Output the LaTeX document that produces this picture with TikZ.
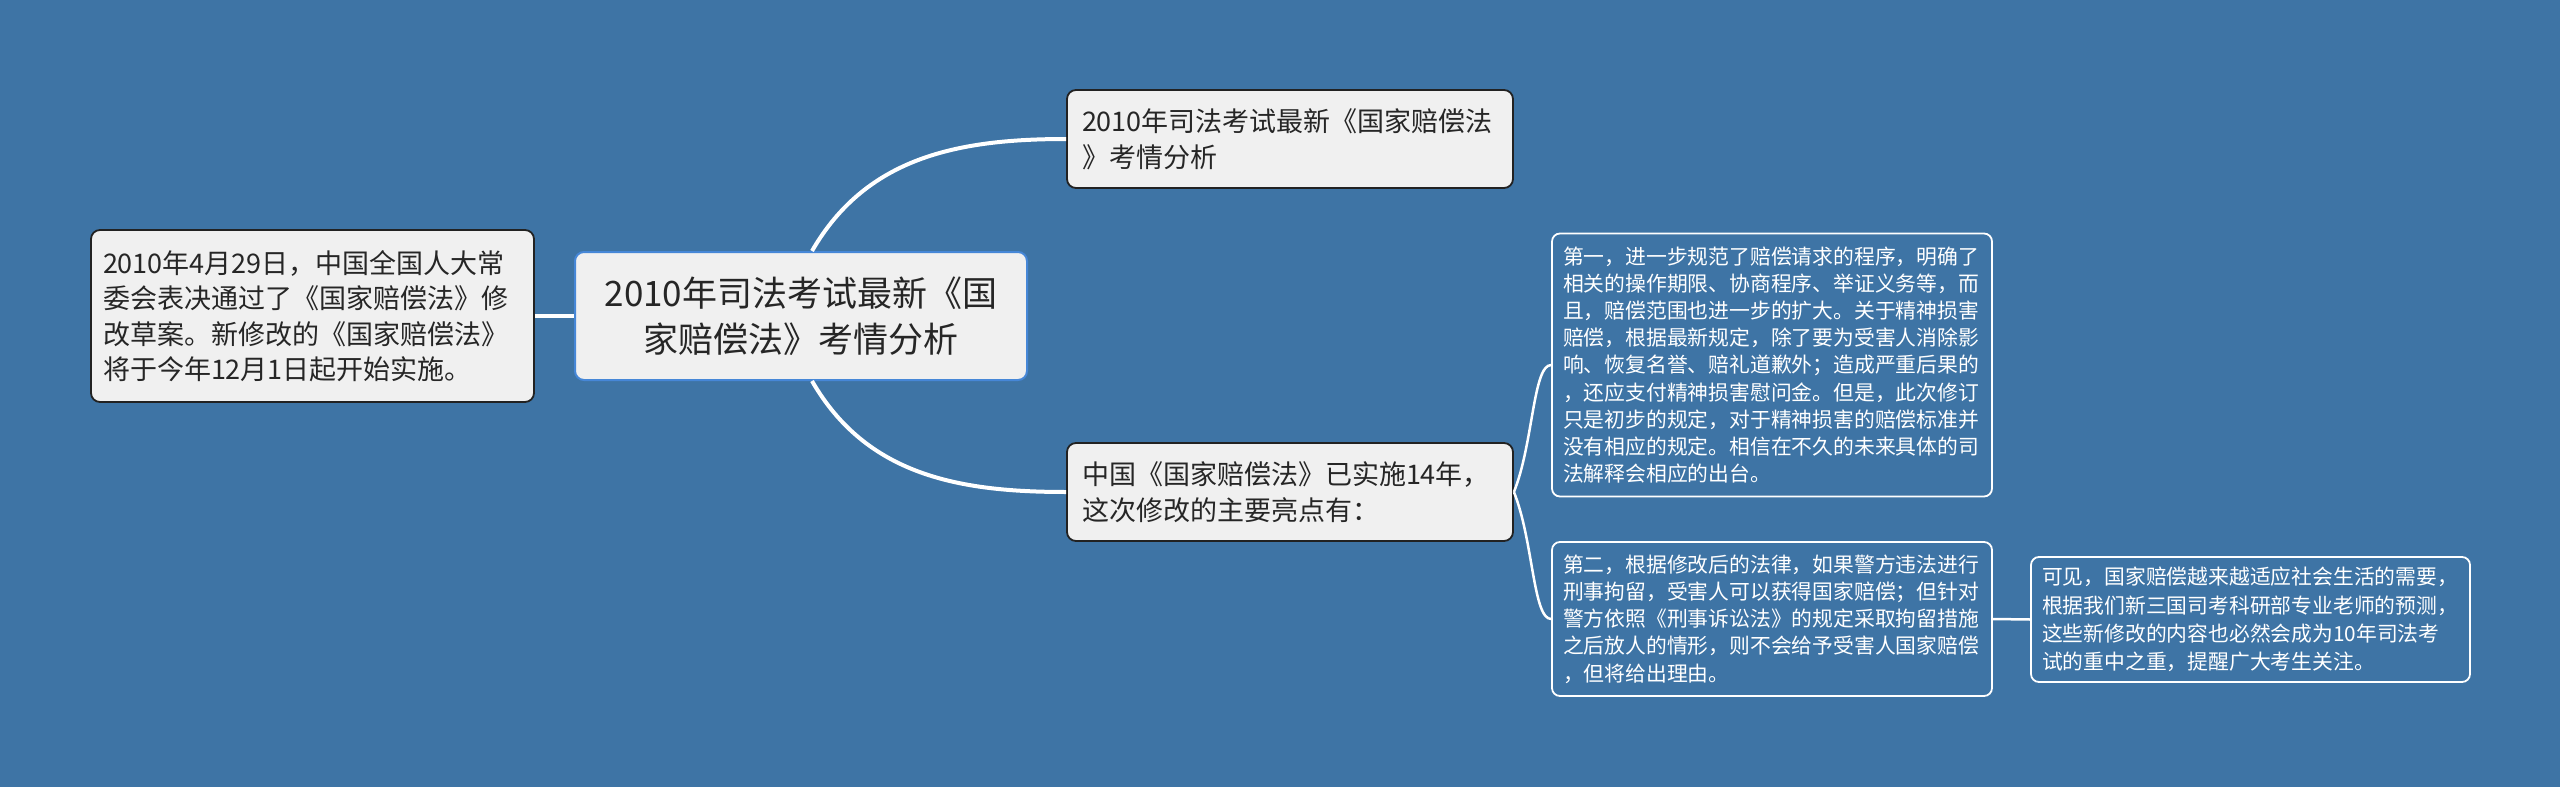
\documentclass[tikz,border=0pt]{standalone}
\usepackage{fontspec}
\newfontfamily\cjk{Noto Sans CJK SC}
\definecolor{bg}{RGB}{62,116,165}
\definecolor{greyfill}{RGB}{240,240,240}
\definecolor{darkline}{RGB}{34,34,34}
\definecolor{darktext}{RGB}{38,38,38}
\definecolor{rootline}{RGB}{70,135,215}
\tikzset{
  greybox/.style={draw=darkline, line width=1.8pt, fill=greyfill, rounded corners=9pt,
    text=darktext, align=left, inner xsep=0pt, inner ysep=0pt,
    font=\cjk\fontsize{27pt}{35.5pt}\selectfont},
  rootbox/.style={draw=rootline, line width=2pt, fill=greyfill, rounded corners=9pt,
    text=darktext, align=center, inner sep=0pt,
    font=\cjk\fontsize{35pt}{46pt}\selectfont},
  bluebox/.style={draw=white, line width=1.8pt, fill=bg, rounded corners=8pt,
    text=white, align=left, inner xsep=0pt, inner ysep=0pt,
    font=\cjk\fontsize{20.8pt}{27.2pt}\selectfont},
  mainline/.style={draw=white, line width=4pt},
  subline/.style={draw=white, line width=2.5pt},
}
\begin{document}
\begin{tikzpicture}[x=1pt,y=-1pt]
\useasboundingbox[fill=bg] (0,0) rectangle (2560,787);

\node[rootbox, minimum width=452pt, minimum height=128pt, text width=430pt] (root) at (801,316)
  {2010年司法考试最新《国\\家赔偿法》考情分析};

\node[greybox, minimum width=443pt, minimum height=172pt, text width=419pt] (left) at (312.5,316)
  {2010年4月29日，中国全国人大常\\委会表决通过了《国家赔偿法》修\\改草案。新修改的《国家赔偿法》\\将于今年12月1日起开始实施。};

\node[greybox, minimum width=446pt, minimum height=98pt, text width=416pt] (top) at (1290,139)
  {2010年司法考试最新《国家赔偿法\\》考情分析};

\node[greybox, minimum width=446pt, minimum height=98pt, text width=416pt] (mid) at (1290,492)
  {中国《国家赔偿法》已实施14年，\\这次修改的主要亮点有：};

\node[bluebox, minimum width=440pt, minimum height=263pt, text width=418pt] (d1) at (1772,365)
  {第一，进一步规范了赔偿请求的程序，明确了\\相关的操作期限、协商程序、举证义务等，而\\且，赔偿范围也进一步的扩大。关于精神损害\\赔偿，根据最新规定，除了要为受害人消除影\\响、恢复名誉、赔礼道歉外；造成严重后果的\\，还应支付精神损害慰问金。但是，此次修订\\只是初步的规定，对于精神损害的赔偿标准并\\没有相应的规定。相信在不久的未来具体的司\\法解释会相应的出台。};

\node[bluebox, minimum width=440pt, minimum height=154pt, text width=418pt] (d2) at (1772,619)
  {第二，根据修改后的法律，如果警方违法进行\\刑事拘留，受害人可以获得国家赔偿；但针对\\警方依照《刑事诉讼法》的规定采取拘留措施\\之后放人的情形，则不会给予受害人国家赔偿\\，但将给出理由。};

\node[bluebox, minimum width=439pt, minimum height=125pt, text width=417pt,
  font=\cjk\fontsize{20.8pt}{28.3pt}\selectfont] (right) at (2250.5,619.5)
  {可见，国家赔偿越来越适应社会生活的需要，\\根据我们新三国司考科研部专业老师的预测，\\这些新修改的内容也必然会成为10年司法考\\试的重中之重，提醒广大考生关注。};

\draw[mainline] (left.east) -- (root.west);
\draw[mainline] ([xshift=11pt]root.north) to[out=60,in=180] (top.west);
\draw[mainline] ([xshift=11pt]root.south) to[out=-60,in=180] (mid.west);
\draw[subline] (mid.east) to[out=68,in=180,in looseness=0.35] (d1.west);
\draw[subline] (mid.east) to[out=-68,in=180,in looseness=0.35] (d2.west);
\draw[subline] (d2.east) -- (right.west);
\end{tikzpicture}
\end{document}
